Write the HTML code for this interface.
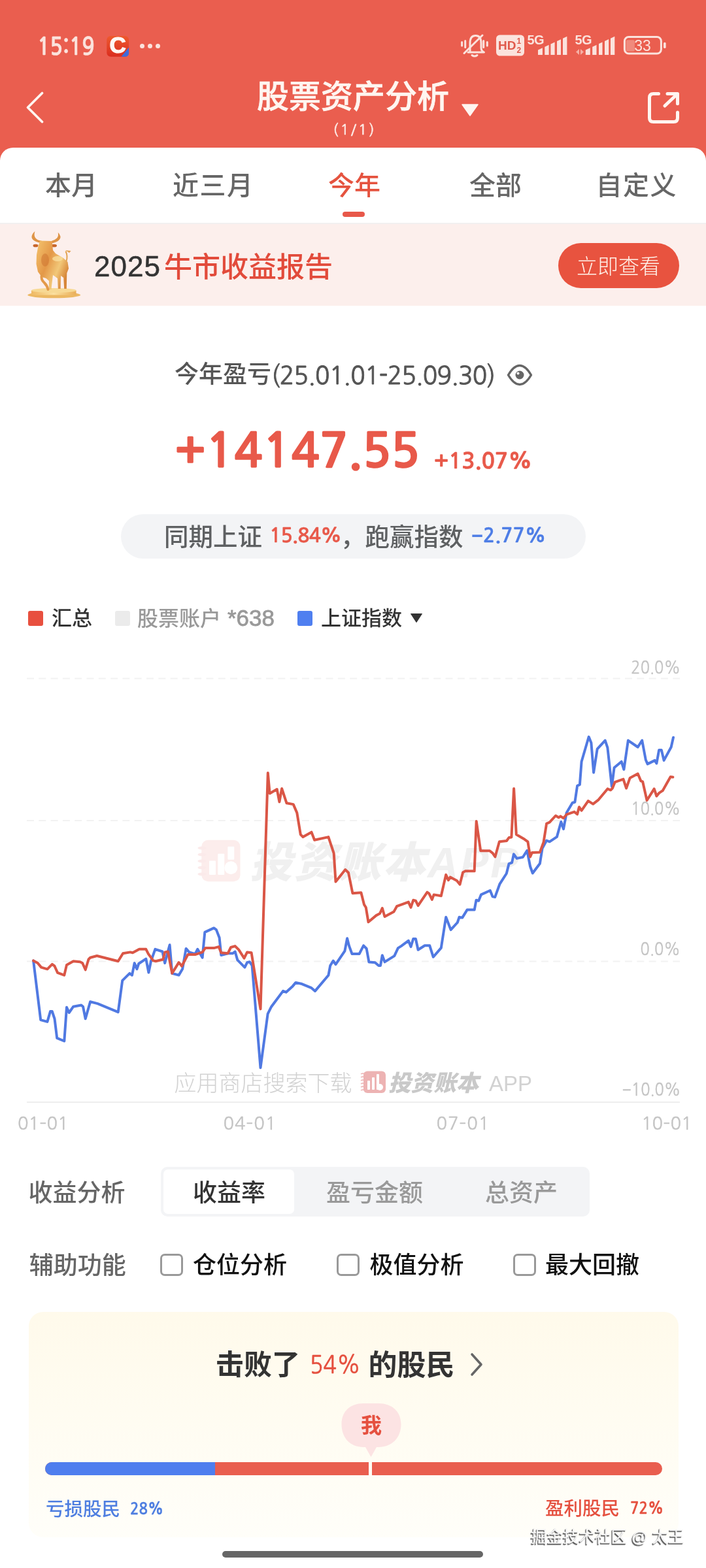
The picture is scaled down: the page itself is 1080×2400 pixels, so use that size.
<!DOCTYPE html>
<html lang="zh-CN">
<head>
<meta charset="utf-8">
<title>股票资产分析</title>
<style>
*{margin:0;padding:0;box-sizing:border-box}
html,body{width:1080px;height:2400px;overflow:hidden;background:#fff}
body{position:relative;font-family:"Liberation Sans","Noto Sans CJK SC",sans-serif;color:#333}
.a{position:absolute}
.t{position:absolute;white-space:nowrap;line-height:1}
#hdr{position:absolute;left:0;top:0;width:1080px;height:260px;background:#EA5E4F}
#card{position:absolute;left:0;top:226px;width:1080px;height:2174px;background:#fff;border-radius:20px 20px 0 0}
</style>
</head>
<body>
<div id="hdr"></div>
<!-- status bar -->
<div class="t" id="time" style="left:57px;top:52.5px;font-size:37px;transform:scaleX(0.87);transform-origin:0 0;font-family:NanumGothic,'Liberation Sans',sans-serif;font-weight:bold;color:#FBE3DD;-webkit-text-stroke:0.6px #FBE3DD">15:19</div>
<svg class="a" id="capp" style="left:160px;top:50px" width="42" height="42" viewBox="160 50 42 42">
  <defs><linearGradient id="cg" x1="0" y1="0" x2="0" y2="1"><stop offset="0" stop-color="#EE5A2E"/><stop offset="1" stop-color="#DA2C1E"/></linearGradient></defs>
  <rect x="163.3" y="55" width="33.8" height="31.8" rx="6" fill="url(#cg)"/>
  <text x="167.4" y="81.4" font-family="Liberation Sans" font-weight="bold" font-size="35" fill="#FFF8F4" stroke="#FFF8F4" stroke-width="1.2">C</text>
  <path d="M197.1 72.5 L197.1 81 Q197.1 86.8 191 86.8 L185.5 86.8 Z" fill="#3F6BDB"/>
</svg>
<div class="a" style="left:214px;top:67px;width:7px;height:7px;border-radius:50%;background:#FBE3DD"></div>
<div class="a" style="left:226px;top:67px;width:7px;height:7px;border-radius:50%;background:#FBE3DD"></div>
<div class="a" style="left:238px;top:67px;width:7px;height:7px;border-radius:50%;background:#FBE3DD"></div>

<svg class="a" style="left:700px;top:45px" width="330" height="50" viewBox="700 45 330 50">
  <g fill="none" stroke="#FBE3DD" stroke-width="3" stroke-linecap="round" stroke-linejoin="round">
    <path d="M719 80 L719 66 Q719 54.5 727.5 54.5 Q736 54.5 736 66 L736 73 Q736 78 740.5 80 L716 80"/>
    <path d="M722 84.5 Q726 87.5 730 84.5"/>
    <path d="M710 81.5 L738 54"/>
    <path d="M706.6 64.5 L706.6 70 M711.7 62.5 L711.7 72.4 M739.7 62.5 L739.7 72.4 M745.3 64.5 L745.3 70"/>
  </g>
  <rect x="759" y="53.6" width="43" height="32" rx="5.5" fill="#FBE3DD"/>
  <text x="762" y="76" font-family="Liberation Sans" font-weight="bold" font-size="19" fill="#E05A4B">HD</text>
  <text x="790.5" y="67.3" font-family="Liberation Sans" font-weight="bold" font-size="12" fill="#E05A4B">1</text>
  <text x="790.5" y="81" font-family="Liberation Sans" font-weight="bold" font-size="12" fill="#E05A4B">2</text>
  <text x="806.5" y="68" font-family="Liberation Sans" font-weight="bold" font-size="20" fill="#FBE3DD" letter-spacing="-0.5">5G</text>
  <g fill="#FBE3DD">
    <path d="M823 84 L823 76.5 L829.9 73.3 L829.9 84 Z"/>
    <path d="M833.3 84 L833.3 71.7 L839.6 68.8 L839.6 84 Z"/>
    <path d="M842.4 84 L842.4 67.5 L848.6 64.6 L848.6 84 Z"/>
    <path d="M852 84 L852 63.0 L858 60.2 L858 84 Z"/>
    <path d="M861 84 L861 58.8 L867.4 55.8 L867.4 84 Z"/>
  </g>
  <text x="879.5" y="68" font-family="Liberation Sans" font-weight="bold" font-size="20" fill="#FBE3DD" letter-spacing="-0.5">5G</text>
  <g fill="#F5AFA4">
    <path d="M881 79.5 L886 75 L886 84 Z"/>
    <path d="M893 79.5 L888 75 L888 84 Z"/>
  </g>
  <g fill="#FBE3DD">
    <path d="M895.8 84 L895.8 76.5 L902.8 73.2 L902.8 84 Z"/>
    <path d="M906.2 84 L906.2 71.7 L912.5 68.7 L912.5 84 Z"/>
    <path d="M916 84 L916 67.1 L921.5 64.5 L921.5 84 Z"/>
    <path d="M925 84 L925 62.9 L931.2 60.0 L931.2 84 Z"/>
    <path d="M934 84 L934 58.7 L940.3 55.8 L940.3 84 Z"/>
  </g>
  <rect x="955.4" y="56.5" width="56" height="25.6" rx="6.5" fill="none" stroke="#FBE3DD" stroke-width="3"/>
  <rect x="957.6" y="61.3" width="13.3" height="17.1" rx="2" fill="#F08A7D"/>
  <rect x="1015" y="64.7" width="3.7" height="9.3" rx="1.8" fill="#FBE3DD"/>
  <text x="983" y="78.4" text-anchor="middle" font-family="Liberation Sans" font-size="23" fill="#FBE3DD">33</text>
</svg>

<!-- nav -->
<svg class="a" style="left:0;top:120px" width="120" height="90" viewBox="0 120 120 90">
  <path d="M64.5 142.5 L42.5 164.5 L64.5 186.5" fill="none" stroke="#FFF5F0" stroke-width="3.8" stroke-linecap="round" stroke-linejoin="round"/>
</svg>
<div class="t" id="title" style="left:393px;top:124px;font-size:49px;color:#FFF5F0;font-weight:500;-webkit-text-stroke:0.7px #FFF5F0">股票资产分析</div>
<svg class="a" style="left:700px;top:155px" width="40" height="30" viewBox="700 155 40 30">
  <path d="M707 160 L731 160 L719 177 Z" fill="#FFF5F0" stroke="#FFF5F0" stroke-width="1.5" stroke-linejoin="round"/>
</svg>
<div class="t" id="sub" style="left:509.5px;top:186.5px;font-size:22px;font-family:NanumGothic,'Liberation Sans',sans-serif;color:#FDEBE6;letter-spacing:3px;-webkit-text-stroke:0.6px #FDEBE6">(1/1)</div>
<svg class="a" style="left:975px;top:125px" width="80" height="80" viewBox="975 125 80 80">
  <path d="M1007.5 143.5 L999.5 143.5 Q993.5 143.5 993.5 149.5 L993.5 180.5 Q993.5 186.5 999.5 186.5 L1030.5 186.5 Q1036.5 186.5 1036.5 180.5 L1036.5 172" fill="none" stroke="#FFF5F0" stroke-width="5" stroke-linecap="round" stroke-linejoin="round"/>
  <path d="M1021 143.5 L1036.5 143.5 L1036.5 158.8 M1036 144 L1017 162" fill="none" stroke="#FFF5F0" stroke-width="5" stroke-linecap="round" stroke-linejoin="round"/>
</svg>

<div id="card"></div>
<!-- tabs -->
<div class="t tab" style="left:69px;top:263.5px;font-size:40px;color:#666;font-weight:500">本月</div>
<div class="t tab" style="left:264px;top:263.5px;font-size:40px;color:#666;font-weight:500;letter-spacing:1.5px">近三月</div>
<div class="t tab" style="left:502px;top:263.5px;font-size:40px;color:#E5533F;font-weight:500">今年</div>
<div class="t tab" style="left:718px;top:264px;font-size:40px;color:#666;font-weight:500">全部</div>
<div class="t tab" style="left:911.5px;top:263.5px;font-size:40px;color:#666;font-weight:500;letter-spacing:1.5px">自定义</div>
<div class="a" style="left:524px;top:324px;width:34px;height:8px;border-radius:4px;background:#E8584A"></div>
<div class="a" style="left:0;top:341px;width:1080px;height:2px;background:#F2F0F0"></div>
<!-- banner -->
<div class="a" id="banner" style="left:0;top:343px;width:1080px;height:125px;background:#FCEFEC"></div>
<svg class="a" id="bull" style="left:38px;top:350px" width="92" height="112" viewBox="38 350 92 112">
  <defs>
    <linearGradient id="gold" x1="0" y1="0" x2="1" y2="0.6">
      <stop offset="0" stop-color="#F4C46E"/>
      <stop offset="0.45" stop-color="#E49848"/>
      <stop offset="0.75" stop-color="#F2C879"/>
      <stop offset="1" stop-color="#D78638"/>
    </linearGradient>
    <linearGradient id="ped" x1="0" y1="0" x2="1" y2="0">
      <stop offset="0" stop-color="#EFB964"/>
      <stop offset="0.5" stop-color="#FBE0A0"/>
      <stop offset="1" stop-color="#E9AE58"/>
    </linearGradient>
  </defs>
  <ellipse cx="82.7" cy="451.5" rx="40.5" ry="4.8" fill="#ECB863"/>
  <rect x="48" y="444.5" width="68.5" height="7" fill="url(#ped)"/>
  <ellipse cx="82.3" cy="444.5" rx="34.3" ry="3.6" fill="#F7D994"/>
  <path d="M62.8 372 Q48 369 48.5 362 Q49.5 357 53.5 354 Q51.5 360 54 364 Q57 368 63.5 368.5 Z" fill="#DE9446"/>
  <path d="M79.4 372.5 Q93 369 92.5 362 Q91.5 358 88.7 355.8 Q90 361 87 364.5 Q84 367.5 79 368.8 Z" fill="#DE9446"/>
  <ellipse cx="54.5" cy="376" rx="4" ry="2.3" fill="#C8662C"/>
  <ellipse cx="82.5" cy="376" rx="4.5" ry="2.3" fill="#C8662C"/>
  <path d="M61 368.5 L79.5 369 L81 383 L85 388 L97 395 L103.5 401 L105 411 L102.3 418 L101.8 442 L98.2 442 L97.2 425 L93 422 L92.6 442 L88.8 442 L88 426 L81 421 L78.4 443 L74.8 443 L75 430 L70.5 426 L64 424 L58 416 L55.5 404 L56 390 L58 379 Z" fill="url(#gold)"/>
  <path d="M64 420 Q62 428 68 433 Q72 437 73.5 443" fill="none" stroke="#E39A4A" stroke-width="4" stroke-linecap="round"/>
  <path d="M101.5 400 Q104 392 100.5 384.5" fill="none" stroke="#E2A352" stroke-width="2"/>
  <path d="M100 383 L108.5 384 L106 387 Z" fill="#E2A352"/>
  <ellipse cx="69" cy="398" rx="6" ry="10" fill="#CE7432" opacity="0.55"/>
  <ellipse cx="88" cy="396" rx="8" ry="4" fill="#FBE2A2" opacity="0.7"/>
</svg>
<div class="t" id="bn" style="left:144px;top:386px;font-size:44px;color:#333;letter-spacing:1px;-webkit-text-stroke:0.5px #333">2025</div>
<div class="t" id="bn2" style="left:251px;top:388px;font-size:43px;color:#E24B3B;font-weight:500">牛市收益报告</div>
<div class="a" id="btn" style="left:854px;top:372px;width:185px;height:69px;border-radius:35px;background:#E8533F"></div>
<div class="t" id="btnt" style="left:882px;top:392px;font-size:32px;color:#FFF1E8;font-weight:300">立即查看</div>

<!-- summary -->
<div class="t" id="sumh" style="left:267px;top:555px;font-size:37px;color:#555;font-weight:500">今年盈亏</div>
<div class="t" id="sumd" style="left:414.5px;top:555px;letter-spacing:-0.7px;font-size:38px;font-family:NanumGothic,'Liberation Sans',sans-serif;color:#555;-webkit-text-stroke:0.9px #555;transform:scaleX(0.977);transform-origin:0 0">(25.01.01-25.09.30)</div>
<svg class="a" style="left:770px;top:552px" width="50" height="44" viewBox="770 552 50 44">
  <path d="M777.5 574 Q786 559.5 795 559.5 Q804 559.5 812.5 574 Q804 588.5 795 588.5 Q786 588.5 777.5 574 Z" fill="none" stroke="#666" stroke-width="3.4" stroke-linejoin="round"/>
  <circle cx="795" cy="574" r="6.5" fill="#666"/>
  <circle cx="792.5" cy="571.5" r="2" fill="#fff"/>
</svg>
<div class="t" id="big" style="left:267.5px;top:654px;font-size:72px;color:#E8594A;font-weight:bold;-webkit-text-stroke:1.6px #E8594A;font-family:NanumGothic,'Liberation Sans',sans-serif;transform-origin:0 0">+14147.55</div>
<div class="t" id="pct" style="left:664px;top:688px;letter-spacing:-0.3px;font-size:34px;font-family:NanumGothic,'Liberation Sans',sans-serif;font-weight:bold;color:#E8594A;-webkit-text-stroke:0.6px #E8594A">+13.07%</div>
<div class="a" id="pill" style="left:185px;top:787px;width:711px;height:68px;border-radius:34px;background:#F3F4F6"></div>
<div class="t" id="pill1" style="left:251px;top:803.5px;font-size:37.5px;color:#5E6062;font-weight:500">同期上证</div>
<div class="t" id="pill2" style="left:412px;top:805px;letter-spacing:-0.9px;font-size:30.3px;font-family:NanumGothic,'Liberation Sans',sans-serif;font-weight:bold;color:#E8594A;-webkit-text-stroke:0.3px #E8594A">15.84%</div>
<div class="t" id="pill3" style="left:521px;top:803.5px;font-size:37.5px;color:#5E6062;font-weight:500">，跑赢指数</div>
<div class="t" id="pill4" style="left:721.5px;top:805px;font-size:30px;font-family:NanumGothic,'Liberation Sans',sans-serif;font-weight:bold;color:#4D7DE6;-webkit-text-stroke:0.3px #4D7DE6">&#8722;2.77%</div>

<!-- legend -->
<div class="a" style="left:43px;top:935px;width:23px;height:23px;border-radius:3px;background:#E8503F"></div>
<div class="t" id="lg1" style="left:79px;top:931px;font-size:31px;color:#333;font-weight:500">汇总</div>
<div class="a" style="left:176px;top:935px;width:23px;height:23px;border-radius:3px;background:#EBEBEB"></div>
<div class="t" id="lg2" style="left:210px;top:930.5px;font-size:32px;color:#999;font-weight:500">股票账户</div>
<div class="t" id="lg3" style="left:348px;top:928px;font-size:35px;color:#999;-webkit-text-stroke:0.8px #999">*638</div>
<div class="a" style="left:455px;top:935px;width:23px;height:23px;border-radius:3px;background:#4F7FF0"></div>
<div class="t" id="lg4" style="left:491px;top:930.5px;font-size:31px;color:#333;font-weight:500">上证指数</div>
<svg class="a" style="left:620px;top:930px" width="40" height="30" viewBox="620 930 40 30">
  <path d="M628.5 939.5 L645.5 939.5 L637 952.5 Z" fill="#333" stroke="#333" stroke-width="1" stroke-linejoin="round"/>
</svg>

<!-- chart -->
<div class="t" id="wm" style="left:382px;top:1288px;font-size:65px;color:#F0F0F0;font-weight:900;font-style:italic;letter-spacing:3px">投资账本APP</div>
<svg class="a" style="left:298px;top:1283px" width="74" height="70" viewBox="298 1283 74 70">
  <rect x="308.3" y="1285.8" width="59.2" height="63.4" rx="10" fill="#FCEDEC"/>
  <g fill="#FFFFFF">
    <rect x="320" y="1317.5" width="10" height="21.5" rx="1"/>
    <rect x="333.3" y="1306.7" width="10" height="32.3" rx="1"/>
    <rect x="348.3" y="1295.8" width="10" height="20" rx="1"/>
    <circle cx="353.3" cy="1328.3" r="10"/>
  </g>
  <g fill="#FBEAEA">
    <ellipse cx="309" cy="1298" rx="6.5" ry="2.6"/>
    <ellipse cx="309" cy="1308" rx="6.5" ry="2.6"/>
    <ellipse cx="309" cy="1318" rx="6.5" ry="2.6"/>
    <ellipse cx="309" cy="1328" rx="6.5" ry="2.6"/>
    <ellipse cx="309" cy="1338" rx="6.5" ry="2.6"/>
  </g>
</svg>
<svg class="a" id="chart" style="left:0;top:990px" width="1080" height="720" viewBox="0 990 1080 720">
  <g stroke="#F2F2F2" stroke-width="2" stroke-dasharray="11 7.3" fill="none">
    <path d="M41 1038.5 H1040"/>
    <path d="M41 1256 H1040"/>
    <path d="M41 1471.5 H1040"/>
  </g>
  <path d="M41 1687 H1040" stroke="#EEEEEE" stroke-width="2"/>
  <polyline points="51.1,1470.4 62.2,1561.1 72.4,1563.9 77.0,1548.1 79.8,1548.1 83.5,1559.3 87.2,1588.9 98.3,1593.5 102.0,1541.7 105.7,1550.0 112.2,1540.7 124.3,1538.5 127.0,1540.7 130.7,1559.3 138.1,1533.3 149.3,1536.1 180.7,1549.1 187.2,1500.9 198.3,1489.8 202.0,1492.6 205.7,1474.1 209.4,1483.3 212.2,1475.0 223.3,1467.6 227.4,1488.5 231.0,1471.0 237.4,1452.8 248.5,1456.5 252.2,1474.1 259.6,1446.3 263.3,1489.8 273.5,1492.6 279.1,1483.3 284.6,1451.9 289.3,1457.4 298.5,1460.2 302.2,1452.8 309.6,1465.7 313.3,1426.9 327.2,1420.4 330.9,1423.1 335.6,1435.2 338.3,1462.0 348.5,1459.3 355.9,1459.3 359.6,1456.5 363.3,1469.4 374.4,1480.6 378.1,1473.1 381.9,1472.2 385.6,1477.8 398.5,1634.3 409.6,1551.9 415.2,1540.7 433.0,1516.9 437.6,1518.7 447.8,1509.4 452.4,1503.9 460.7,1505.7 476.5,1512.2 482.0,1516.9 502.4,1492.8 505.2,1478.0 509.8,1470.6 513.5,1476.1 527.4,1455.7 531.1,1436.3 533.9,1447.4 538.5,1460.0 549.6,1460.0 556.1,1447.4 560.7,1452.0 564.4,1472.4 573.7,1473.3 579.3,1478.0 582.0,1478.0 584.8,1462.2 588.5,1472.4 603.3,1463.1 608.9,1451.1 613.7,1448.1 624.8,1439.8 628.5,1449.1 632.2,1437.0 635.9,1437.0 639.6,1453.7 649.8,1447.2 657.2,1447.2 662.8,1464.8 674.8,1450.9 682.2,1403.7 689.6,1423.1 699.8,1412.0 702.6,1403.7 707.2,1404.6 714.6,1392.6 725.7,1392.6 728.5,1377.8 732.2,1378.7 735.9,1369.4 749.8,1363.0 753.5,1372.2 757.2,1373.1 764.6,1352.8 774.8,1337.0 778.5,1322.2 783.1,1320.4 785.9,1307.4 790.6,1313.9 799.8,1312.0 806.3,1301.9 811.1,1326.3 814.8,1336.5 825.9,1321.7 829.6,1298.5 836.1,1286.5 840.7,1288.3 851.9,1280.9 858.3,1257.8 862.0,1268.9 866.7,1243.9 875.7,1228.7 879.4,1227.8 883.1,1202.8 886.9,1200.9 889.6,1165.7 900.7,1127.8 904.4,1137.0 908.1,1182.4 913.7,1146.3 925.7,1133.3 929.4,1144.4 935.9,1203.7 939.6,1175.0 950.7,1165.7 954.4,1177.8 960.9,1133.3 975.7,1143.5 982.2,1133.3 987.8,1163.0 990.6,1169.4 1001.7,1163.9 1004.4,1168.5 1008.1,1148.1 1011.9,1148.1 1015.6,1163.9 1026.7,1143.5 1030.0,1128.7" fill="none" stroke="#5079E2" stroke-width="4" stroke-linejoin="round" stroke-linecap="round"/>
  <polyline points="51.1,1470.4 57.6,1474.0 63.1,1480.6 72.4,1483.3 79.8,1475.9 83.5,1478.7 88.1,1488.9 98.3,1492.6 102.0,1476.9 112.2,1471.3 122.4,1472.2 126.1,1474.0 130.7,1484.3 135.4,1468.5 138.1,1465.7 148.3,1463.0 180.7,1471.3 188.1,1459.3 199.3,1457.4 203.0,1458.3 213.1,1452.8 223.3,1452.8 227.0,1460.2 234.4,1470.4 238.3,1471.3 249.4,1468.5 252.2,1457.4 256.9,1456.5 263.3,1489.8 273.5,1473.1 278.1,1478.7 287.4,1461.1 298.5,1461.1 309.6,1457.4 314.3,1450.9 328.1,1450.9 334.6,1449.1 338.3,1458.3 348.5,1459.3 353.1,1450.0 359.6,1448.1 365.2,1453.7 373.5,1466.7 378.1,1457.4 384.6,1458.3 398.5,1544.4 409.8,1183.0 412.6,1214.4 423.7,1208.0 427.4,1227.4 431.1,1207.0 438.5,1229.3 448.7,1231.1 454.3,1244.1 459.8,1277.4 463.5,1281.1 476.5,1273.7 481.1,1285.7 502.4,1281.1 510.7,1306.1 513.5,1349.6 528.3,1331.1 533.0,1335.7 539.4,1367.2 552.4,1366.3 557.0,1384.4 559.8,1389.1 563.5,1411.3 575.6,1401.1 581.1,1398.3 584.8,1390.0 588.5,1403.0 602.4,1395.6 607.0,1387.2 617.4,1383.3 624.8,1380.6 628.5,1388.9 632.2,1377.8 635.9,1378.7 639.6,1386.1 653.5,1365.7 656.3,1367.6 660.9,1376.9 663.7,1369.4 674.8,1371.3 682.2,1338.9 685.9,1347.2 688.7,1342.6 698.9,1348.1 703.5,1353.7 708.1,1335.2 711.9,1333.3 725.7,1333.3 728.7,1256.9 735.2,1302.2 749.1,1302.2 753.7,1305.9 757.4,1311.5 763.9,1288.3 775.0,1287.0 778.7,1281.9 782.4,1281.5 786.1,1206.9 789.8,1277.2 800.9,1283.7 807.4,1288.3 811.1,1311.5 813.9,1305.0 825.9,1304.4 831.5,1289.3 836.1,1260.6 840.7,1258.7 850.0,1248.5 854.6,1251.3 857.4,1249.4 862.0,1252.2 866.7,1246.7 878.5,1242.6 883.1,1246.3 885.9,1235.2 889.6,1240.7 899.8,1225.9 907.2,1230.6 915.6,1224.1 929.4,1207.4 934.1,1209.3 936.9,1206.5 940.6,1197.2 953.5,1192.6 958.1,1206.5 963.7,1190.7 975.7,1184.3 980.4,1195.4 983.1,1196.3 989.6,1225.0 1000.7,1207.4 1004.4,1218.5 1008.1,1213.9 1013.7,1210.2 1025.7,1188.9 1029.4,1189.4" fill="none" stroke="#DA5646" stroke-width="4" stroke-linejoin="round" stroke-linecap="round"/>
</svg>
<div class="t yl" style="right:38.5px;top:1009px;font-size:26.5px;font-family:NanumGothic,'Liberation Sans',sans-serif;color:#C4C4C4;-webkit-text-stroke:0.4px #C4C4C4;transform:scaleX(0.89);transform-origin:100% 0">20.0%</div>
<div class="t yl" style="right:38.5px;top:1225px;font-size:26.5px;font-family:NanumGothic,'Liberation Sans',sans-serif;color:#C4C4C4;-webkit-text-stroke:0.4px #C4C4C4;transform:scaleX(0.89);transform-origin:100% 0">10.0%</div>
<div class="t yl" style="right:38.5px;top:1440px;font-size:26.5px;font-family:NanumGothic,'Liberation Sans',sans-serif;color:#C4C4C4;-webkit-text-stroke:0.4px #C4C4C4;transform:scaleX(0.89);transform-origin:100% 0">0.0%</div>
<div class="t yl" style="right:38.5px;top:1655px;font-size:26.5px;font-family:NanumGothic,'Liberation Sans',sans-serif;color:#C4C4C4;-webkit-text-stroke:0.4px #C4C4C4;transform:scaleX(0.89);transform-origin:100% 0">&#8722;10.0%</div>
<div class="t" id="wl1" style="left:266.5px;top:1641px;font-size:34px;color:#D2D2D2;font-weight:300">应用商店搜索下载</div>
<svg class="a" style="left:550px;top:1636px" width="44" height="42" viewBox="550 1636 44 42">
  <rect x="556" y="1639.5" width="34" height="33.5" rx="6" fill="#EDB3B3"/>
  <g fill="#fff">
    <rect x="562" y="1654" width="4" height="14" rx="1"/>
    <rect x="569" y="1649" width="4" height="19" rx="1"/>
    <rect x="576" y="1644" width="4" height="24" rx="1"/>
    <circle cx="581" cy="1664" r="5"/>
  </g>
  <path d="M552 1644 Q555 1642 558 1644 M552 1649 Q555 1647 558 1649 M552 1654 Q555 1652 558 1654 M552 1659 Q555 1657 558 1659 M552 1664 Q555 1662 558 1664 M552 1669 Q555 1667 558 1669" fill="none" stroke="#EDB3B3" stroke-width="1.5"/>
</svg>
<div class="t" id="wl2" style="left:594px;top:1640.5px;font-size:34.6px;color:#C9C9C9;font-weight:900;font-style:italic">投资账本</div>
<div class="t" id="wl3" style="left:748px;top:1642px;font-size:33px;color:#D2D2D2">APP</div>
<div class="t xl" style="left:27px;top:1706px;font-size:27.4px;font-family:NanumGothic,'Liberation Sans',sans-serif;color:#C4C4C4;-webkit-text-stroke:0.4px #C4C4C4">01&#8211;01</div>
<div class="t xl" style="left:341.5px;top:1706px;letter-spacing:0.8px;font-size:27.4px;font-family:NanumGothic,'Liberation Sans',sans-serif;color:#C4C4C4;-webkit-text-stroke:0.4px #C4C4C4">04&#8211;01</div>
<div class="t xl" style="left:667.5px;top:1706px;letter-spacing:0.8px;font-size:27.4px;font-family:NanumGothic,'Liberation Sans',sans-serif;color:#C4C4C4;-webkit-text-stroke:0.4px #C4C4C4">07&#8211;01</div>
<div class="t xl" style="left:981px;top:1706px;font-size:27.4px;font-family:NanumGothic,'Liberation Sans',sans-serif;color:#C4C4C4;-webkit-text-stroke:0.4px #C4C4C4">10&#8211;01</div>

<!-- analysis -->
<div class="t" id="sa" style="left:43.5px;top:1807.5px;font-size:37px;color:#666;font-weight:500">收益分析</div>
<div class="a" id="seg" style="left:246px;top:1786px;width:656px;height:76px;border-radius:10px;background:#F3F4F6"></div>
<div class="a" id="segw" style="left:250px;top:1790px;width:200px;height:68px;border-radius:7px;background:#fff"></div>
<div class="t" id="s1" style="left:295px;top:1808px;font-size:37px;color:#333;font-weight:500">收益率</div>
<div class="t" id="s2" style="left:499px;top:1808px;font-size:37px;color:#999;font-weight:500">盈亏金额</div>
<div class="t" id="s3" style="left:742px;top:1808px;font-size:37px;color:#999;font-weight:500">总资产</div>

<div class="t" id="fz" style="left:44.8px;top:1918.5px;font-size:37px;color:#666;font-weight:500">辅助功能</div>
<div class="a cb" style="left:245px;top:1919px;width:35px;height:35px;height:34px;border:3px solid #999;border-radius:7px"></div>
<div class="t" id="c1" style="left:295px;top:1919px;font-size:36px;color:#111;font-weight:500">仓位分析</div>
<div class="a cb" style="left:515px;top:1919px;width:35px;height:35px;height:34px;border:3px solid #999;border-radius:7px"></div>
<div class="t" id="c2" style="left:565.5px;top:1918.5px;font-size:36px;color:#111;font-weight:500">极值分析</div>
<div class="a cb" style="left:785px;top:1919px;width:35px;height:35px;height:34px;border:3px solid #999;border-radius:7px"></div>
<div class="t" id="c3" style="left:834px;top:1918.5px;font-size:36px;color:#111;font-weight:500">最大回撤</div>

<!-- beat card -->
<div class="a" id="ycard" style="left:44px;top:2008px;width:994px;height:345px;border-radius:22px;background:linear-gradient(180deg,#FFFAEB 0%,#FFFCF1 45%,#FFFEF9 100%)"></div>
<div class="t" id="b1" style="left:330px;top:2068px;font-size:43px;color:#333;font-weight:bold">击败了</div>
<div class="t" id="b2" style="left:474px;top:2069.5px;font-size:37.5px;transform:scaleX(0.9);transform-origin:0 0;font-family:NanumGothic,'Liberation Sans',sans-serif;color:#E5503F;-webkit-text-stroke:0.7px #E5503F">54%</div>
<div class="t" id="b3" style="left:563.5px;top:2068px;font-size:44px;color:#333;font-weight:bold">的股民</div>
<svg class="a" style="left:715px;top:2066px" width="30" height="45" viewBox="715 2066 30 45">
  <path d="M722 2073 L736 2088.5 L722 2104" fill="none" stroke="#666" stroke-width="3.6" stroke-linecap="round" stroke-linejoin="round"/>
</svg>
<svg class="a" style="left:515px;top:2140px" width="110" height="100" viewBox="515 2140 110 100">
  <path d="M556 2148 L579 2148 C599 2148 613.5 2160 613.5 2180 C613.5 2201 599 2215 579 2215 L576 2215 L567.5 2230 L559 2215 L556 2215 C536 2215 522.5 2201 522.5 2180 C522.5 2160 536 2148 556 2148 Z" fill="#FCE3E3"/>
</svg>
<div class="t" id="me" style="left:552px;top:2166px;font-size:32px;color:#E5503F;font-weight:bold">我</div>
<div class="a" style="left:69px;top:2238px;width:944px;height:20px;border-radius:10px;background:#E95E4F;overflow:hidden">
  <div class="a" style="left:0;top:0;width:260px;height:20px;background:#4F7EEE"></div>
</div>
<div class="a" style="left:564px;top:2232px;width:5px;height:30px;background:#FFFDF6"></div>
<div class="t" id="l1" style="left:70px;top:2296px;font-size:28.5px;color:#4E7EE0;font-weight:500">亏损股民</div>
<div class="t" id="l2" style="left:199px;top:2297.5px;font-size:24px;transform:scaleX(0.93);transform-origin:0 0;font-family:NanumGothic,'Liberation Sans',sans-serif;font-weight:bold;color:#4E7EE0;-webkit-text-stroke:0.3px #4E7EE0">28%</div>
<div class="t" id="r1" style="left:834px;top:2295px;font-size:28.5px;color:#E5503F;font-weight:500">盈利股民</div>
<div class="t" id="r2" style="left:963.5px;top:2297px;font-size:24px;transform:scaleX(0.93);transform-origin:0 0;font-family:NanumGothic,'Liberation Sans',sans-serif;font-weight:bold;color:#E5503F;-webkit-text-stroke:0.3px #E5503F">72%</div>
<div class="t" id="jj" style="left:812px;top:2341px;font-size:24.5px;color:#F4F4F4;-webkit-text-stroke:0.3px #F4F4F4;text-shadow:-1px 1px 0 #555, -1.5px 1.5px 1px #666">掘金技术社区 @ 太王</div>
<div class="a" style="left:340px;top:2374px;width:399px;height:10px;border-radius:5px;background:#666"></div>
</body>
</html>
